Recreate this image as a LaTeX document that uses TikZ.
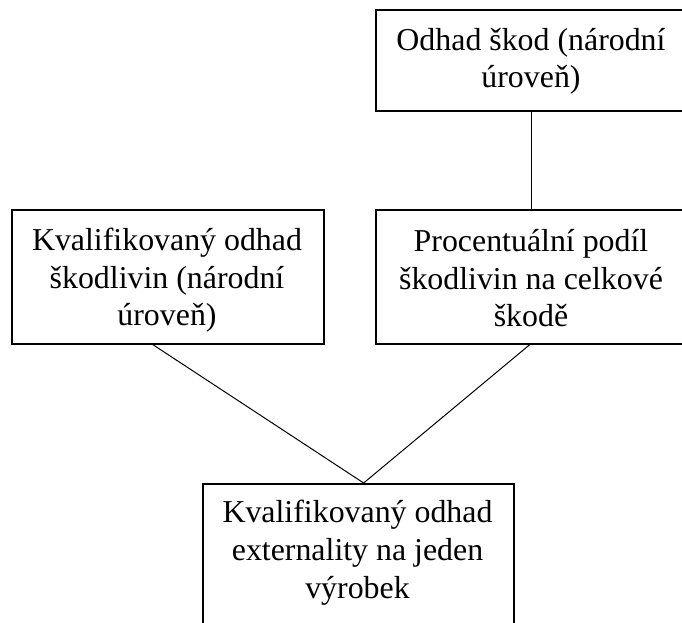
\documentclass[tikz,border=0pt]{standalone}
\usepackage{fontspec}
\setmainfont{Liberation Serif}
\begin{document}
\begin{tikzpicture}[x=0.75pt,y=-0.75pt,
  box/.style={draw=black,line width=1.2pt,fill=none,inner sep=0pt,anchor=north west},
  txt/.style={align=center,anchor=base,inner sep=0pt,
    font=\fontsize{23.9}{28.2}\selectfont},
  link/.style={draw=black,line width=0.75pt}]
  % page area
  \useasboundingbox (0,0) rectangle (682,623);

  % boxes
  \node[box,minimum width=234pt,minimum height=75.75pt] (A) at (375,9) {};
  \node[box,minimum width=234pt,minimum height=100.5pt] (B) at (375,209) {};
  \node[box,minimum width=234pt,minimum height=100.5pt] (L) at (11,209) {};
  \node[box,minimum width=233.25pt,minimum height=130pt] (C) at (202,483) {};

  % box texts, placed by the baseline of their last line
  \node[txt] (tA) at (531,88) {Odhad škod (národní\\úroveň)};
  \node[txt] (tB) at (531,327) {Procentuální podíl\\škodlivin na celkové\\škodě};
  \node[txt] (tL) at (167,326) {Kvalifikovaný odhad\\škodlivin (národní\\úroveň)};
  \node[txt] (tC) at (357.5,598) {Kvalifikovaný odhad\\externality na jeden\\výrobek};

  % connectors
  \draw[link] (A.south) -- (B.north);
  \draw[link] ([xshift=-11.25pt]L.south) -- ([xshift=4pt]C.north);
  \draw[link] ([xshift=-1.5pt]B.south) -- ([xshift=4pt]C.north);
\end{tikzpicture}
\end{document}
